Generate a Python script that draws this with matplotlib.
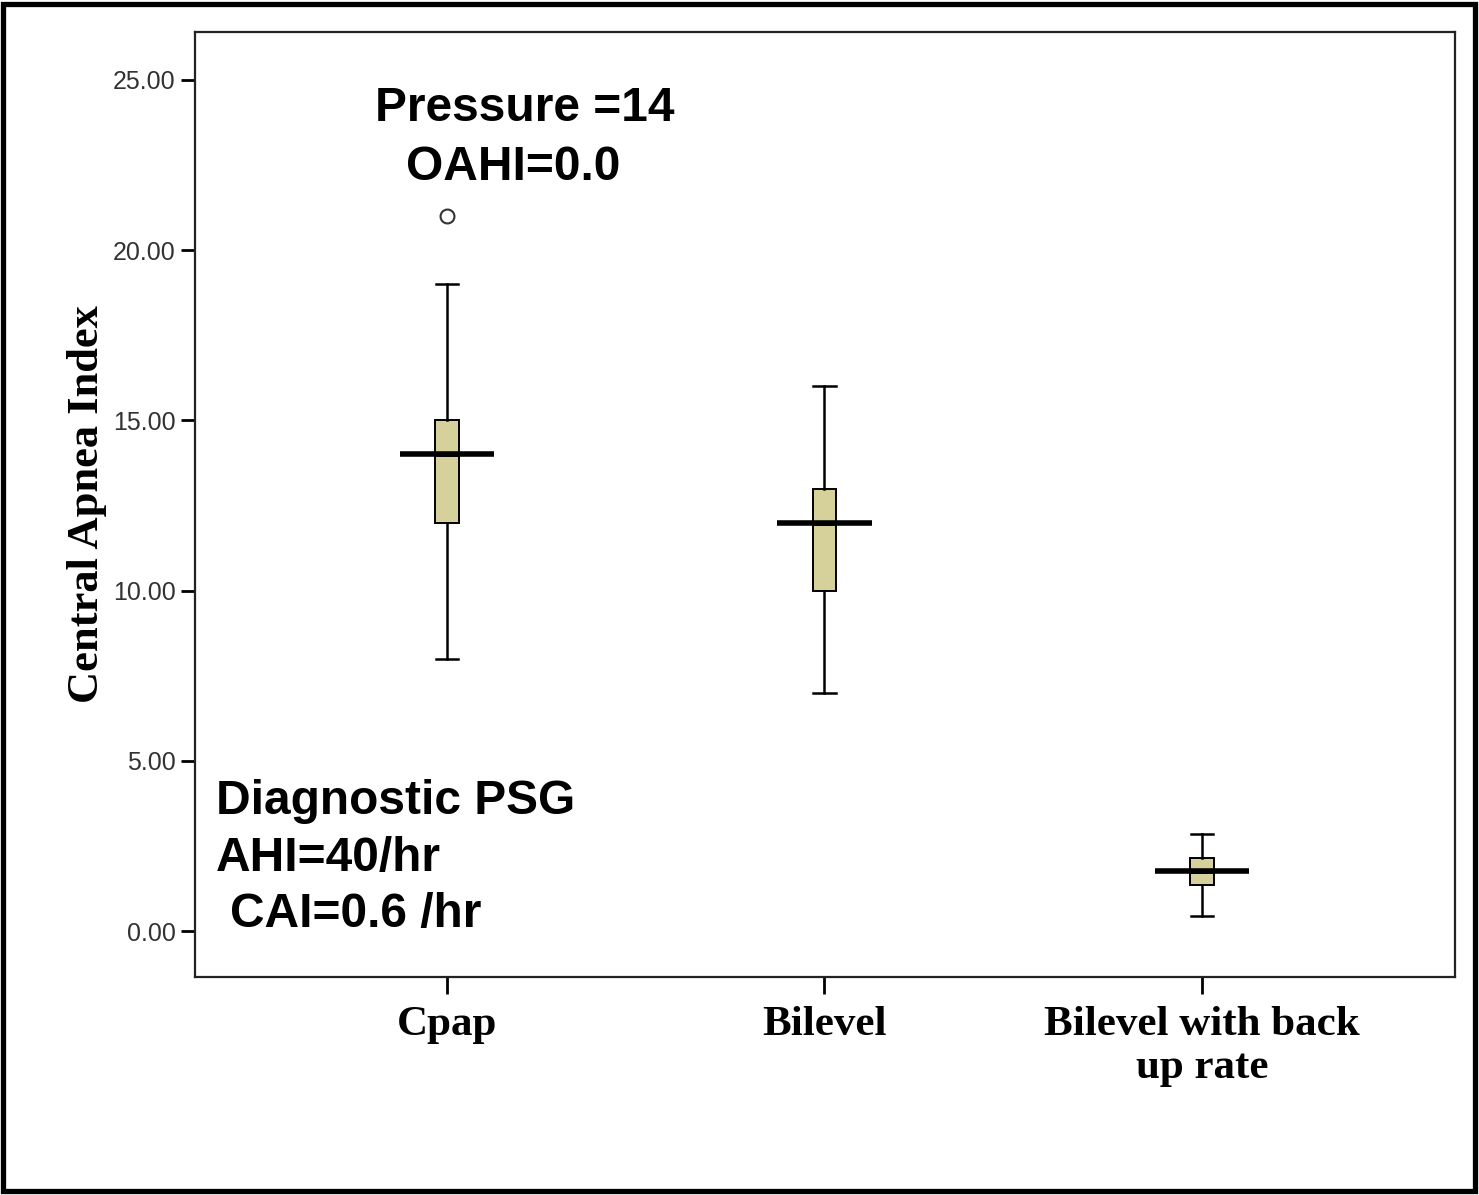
import matplotlib
matplotlib.use('Agg')
import matplotlib.pyplot as plt
from matplotlib.patches import Rectangle

# Box plot values
groups = ['Cpap', 'Bilevel', 'Bilevel with back\nup rate']
whislo = [8.0, 7.0, 0.45]
q1 = [12.0, 10.0, 1.35]
med = [14.0, 12.0, 1.75]
q3 = [15.0, 13.0, 2.15]
whishi = [19.0, 16.0, 2.85]
fliers = [[21.0], [], []]

yticks = [0, 5, 10, 15, 20, 25]

stats = []
for i in range(len(groups)):
    stats.append({'whislo': whislo[i], 'q1': q1[i], 'med': med[i], 'q3': q3[i],
                  'whishi': whishi[i], 'fliers': fliers[i], 'label': groups[i]})

fig = plt.figure(figsize=(14.79, 11.95), dpi=100)
ax = fig.add_axes([195 / 1479, 1 - 977 / 1195, 1260 / 1479, 945 / 1195])

ax.bxp(stats, positions=[1, 2, 3], widths=0.062, patch_artist=True,
       boxprops=dict(facecolor='#d6d09b', edgecolor='black', linewidth=1.4),
       whiskerprops=dict(color='black', linewidth=1.8),
       capprops=dict(color='black', linewidth=1.8),
       capwidths=0.06,
       medianprops=dict(color='black', linewidth=3.5),
       flierprops=dict(marker='o', markersize=10, markerfacecolor='white',
                       markeredgecolor='#333333', markeredgewidth=1.5))

# SPSS draws the median wider than the box
for i, m in enumerate(med):
    ax.plot([i + 1 - 0.125, i + 1 + 0.125], [m, m], color='black', lw=4.0,
            solid_capstyle='butt', zorder=5)

ax.set_xlim(0.333, 3.67)
ax.set_ylim(-1.35, 26.41)
ax.set_yticks(yticks)
ax.set_yticklabels(['%.2f' % v for v in yticks], fontsize=18,
                   family='Liberation Sans', color='#333333')
ax.set_xticks([1, 2, 3])
ax.set_xticklabels(groups, fontsize=31, family='Liberation Serif',
                   fontweight='bold', linespacing=1.15)
ax.tick_params(axis='y', length=10, width=2, pad=4)
ax.tick_params(axis='x', length=12, width=2, pad=9)
ax.set_ylabel('Central Apnea Index', fontsize=32, family='Liberation Serif',
              fontweight='bold', labelpad=4)
for sp in ax.spines.values():
    sp.set_linewidth(1.6)
    sp.set_color('#222222')

# annotations
kw = dict(fontsize=34.5, family='Liberation Sans', fontweight='bold')
ax.text(1.207, 24.15, 'Pressure =14', ha='center', va='center', **kw)
ax.text(1.175, 22.44, 'OAHI=0.0', ha='center', va='center', **kw)
ax.text(0.388, 3.82, 'Diagnostic PSG', ha='left', va='center', **kw)
ax.text(0.388, 2.14, 'AHI=40/hr', ha='left', va='center', **kw)
ax.text(0.425, 0.5, 'CAI=0.6 /hr', ha='left', va='center', **kw)

# outer frame
fig.patches.append(Rectangle((0.002, 0.003), 0.995, 0.994, transform=fig.transFigure,
                             fill=False, edgecolor='black', linewidth=3.8))

fig.savefig('out.png', dpi=100)
